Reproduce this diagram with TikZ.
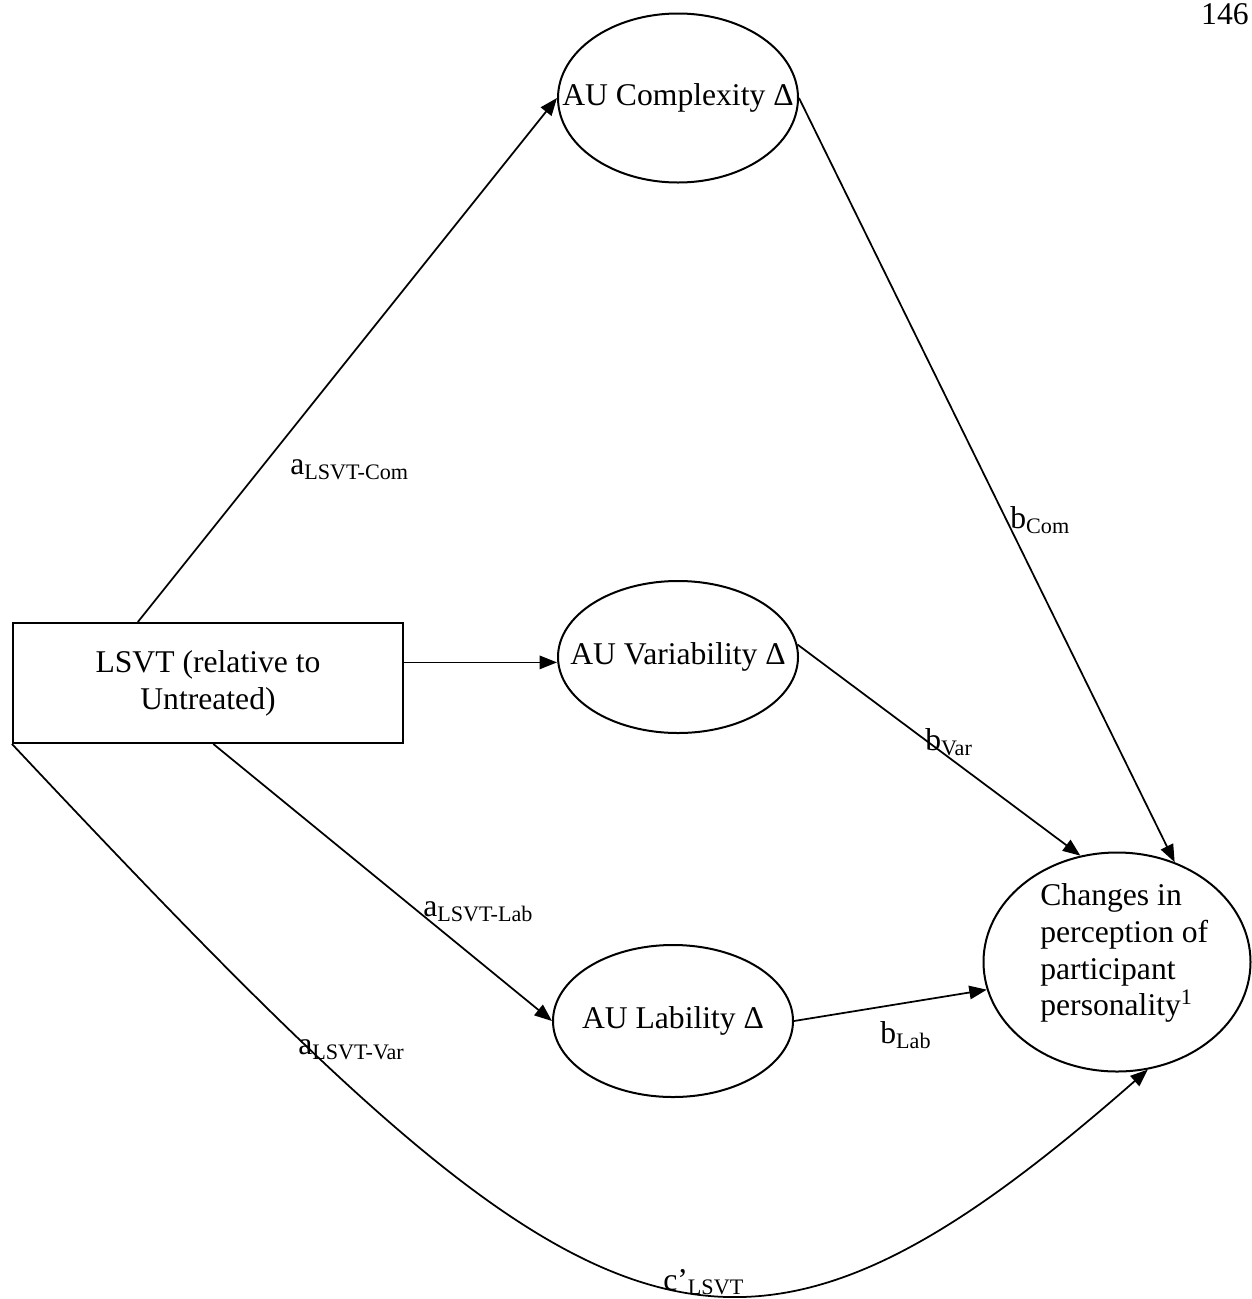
\documentclass[tikz,border=0pt]{standalone}
\usepackage{fontspec}
\setmainfont{Liberation Serif}
\usetikzlibrary{arrows.meta,shapes.geometric}
\tikzset{
	latent/.style={draw, line width=0.4mm, ellipse, inner sep=0pt},
	observed/.style={draw, line width=0.4mm, rectangle, minimum width=78mm, minimum height=24mm, align=center, inner sep=0pt},
	effect/.style={line width=0.35mm, -{Triangle[length=3.5mm,width=2.7mm]}},
	coef/.style={anchor=west, inner sep=0pt}
}
\newcommand{\pathcoef}[2]{#1\textsubscript{#2}}

\begin{document}
\begin{tikzpicture}[x=0.2mm, y=-0.2mm, font=\fontsize{18pt}{21pt}\selectfont]
			%%%%% START %%%%%
			\useasboundingbox (0,0) rectangle (1252,1299);
			
			\node[anchor=north east, inner sep=0pt] (page) at (1249,3) {146};
			
			\node[observed] (lsvt) at (208,683) {LSVT (relative to\\Untreated)};
			
			\node[latent, minimum width=48mm, minimum height=33.8mm, label=center:{AU Complexity Δ}] (com) at (678,98) {};
			\node[latent, minimum width=48mm, minimum height=30.4mm, label=center:{AU Variability Δ}] (var) at (678,657) {};
			\node[latent, minimum width=48mm, minimum height=30.4mm, label=center:{AU Lability Δ}] (lab) at (673,1021) {};
			\node[latent, minimum width=53.4mm, minimum height=43.8mm] (chg) at (1117,962) {};
			\node[anchor=west, align=left, inner sep=0pt] (chgtext) at (1040,953) {Changes in\\perception of\\participant\\personality\textsuperscript{1}};
			
			\draw[effect] (lsvt.139) -- (com.west);
			\draw[effect] (lsvt.6) -- (lsvt.6 -| var.west);
			\draw[effect] (lsvt.-85) -- (lab.west);
			
			\draw[effect] (com.east) -- (chg.60);
			\draw[effect] (var.6) -- (chg.109);
			\draw[effect] (lab.east) -- (chg.192);
			
			\draw[effect] (lsvt.south west) .. controls (590,1360) and (720,1445) .. (chg.286);
			
			\node[coef] (acom) at (290,470) {\pathcoef{a}{LSVT-Com}};
			\node[coef] (bcom) at (1010,520) {\pathcoef{b}{Com}};
			\node[coef] (bvar) at (925,742) {\pathcoef{b}{Var}};
			\node[coef] (alab) at (423,912) {\pathcoef{a}{LSVT-Lab}};
			\node[coef] (blab) at (880,1035) {\pathcoef{b}{Lab}};
			\node[coef] (avar) at (298,1050) {\pathcoef{a}{LSVT-Var}};
			\node[coef] (cl) at (663,1282) {\pathcoef{c’}{LSVT}};
			
			%%%%% END %%%%%
\end{tikzpicture}
\end{document}
